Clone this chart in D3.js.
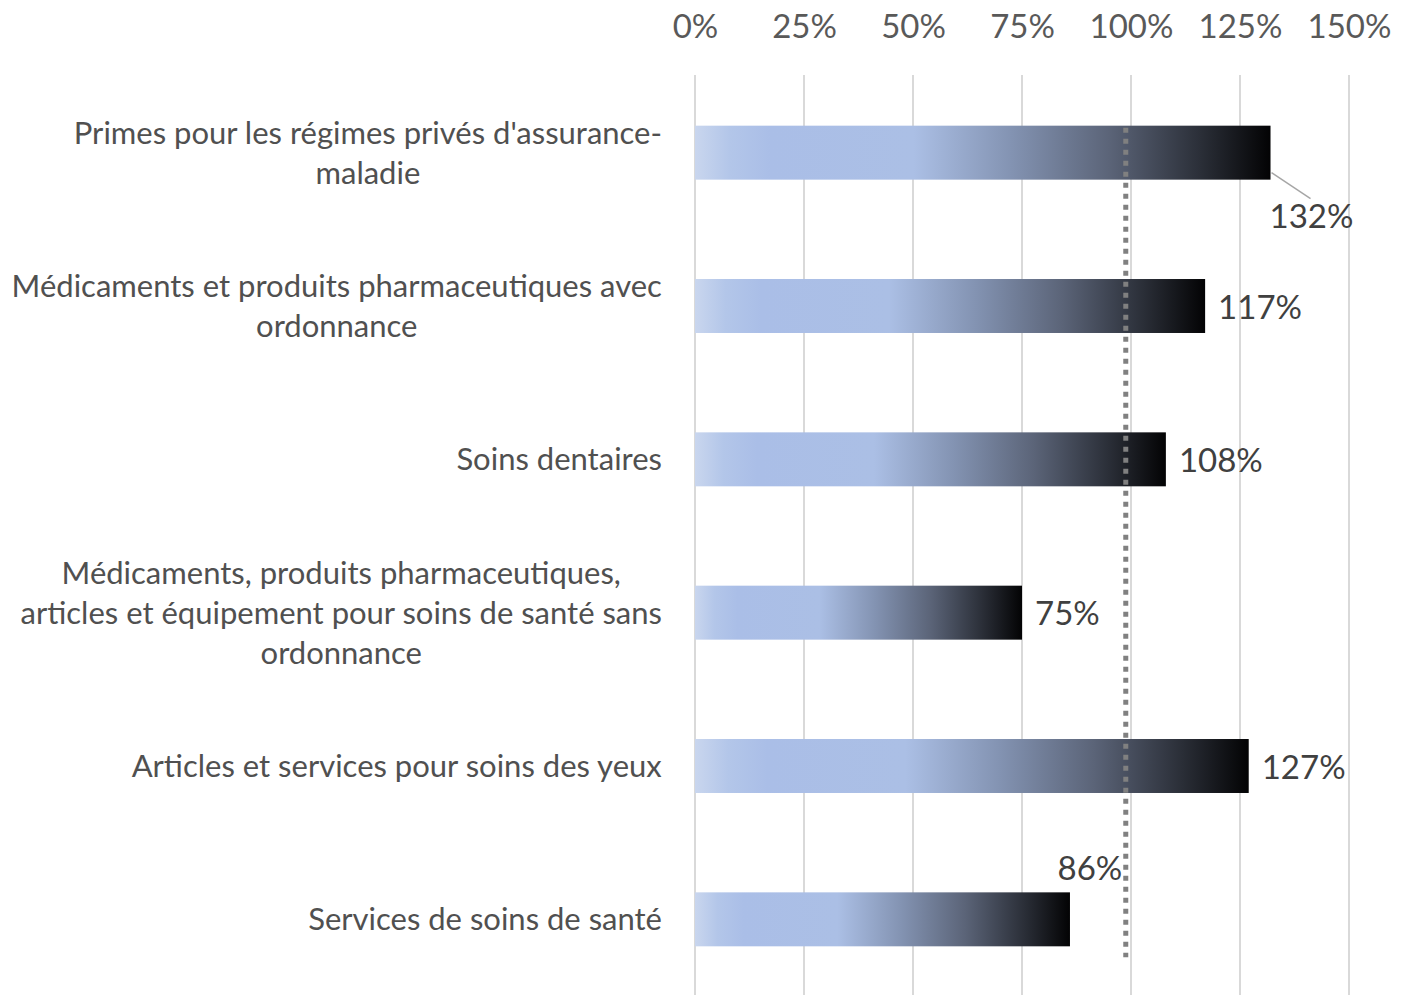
<!DOCTYPE html>
<html><head><meta charset="utf-8">
<script src="https://cdn.jsdelivr.net/npm/d3@7"></script>
<style>
html,body{margin:0;padding:0;background:#fff;}
svg{display:block;}
text{font-family:Lato,"Open Sans",sans-serif;}
</style></head>
<body><svg id="chart" width="1406" height="995"></svg>
<script>
const categories = [
  ["Primes pour les régimes privés d'assurance-", "maladie"],
  ["Médicaments et produits pharmaceutiques avec", "ordonnance"],
  ["Soins dentaires"],
  ["Médicaments, produits pharmaceutiques,", "articles et équipement pour soins de santé sans", "ordonnance"],
  ["Articles et services pour soins des yeux"],
  ["Services de soins de santé"]
];
const values = [132, 117, 108, 75, 127, 86];
const valueLabels = ["132%", "117%", "108%", "75%", "127%", "86%"];
const tickValues = [0, 25, 50, 75, 100, 125, 150];
const tickLabels = ["0%", "25%", "50%", "75%", "100%", "125%", "150%"];
const referenceValue = 98.8;

const svg = d3.select("#chart");
const W = 1406, H = 995;
const x = d3.scaleLinear().domain([0, 150]).range([695, 1349]);
const y = d3.scaleBand().domain(d3.range(values.length)).range([76, 996])
  .paddingInner(0.648).paddingOuter(0.324);

// gradient
const defs = svg.append("defs");
const grad = defs.append("linearGradient").attr("id", "barGrad")
  .attr("x1", "0%").attr("x2", "100%").attr("y1", "0%").attr("y2", "0%");
[[0, "#c9d6ee"], [0.06, "#b3c6e9"], [0.13, "#aabee7"], [0.38, "#abbfe5"],
 [0.55, "#8393b2"], [0.72, "#5b6478"], [0.88, "#2a2e37"], [1, "#030304"]]
  .forEach(([o, c]) => grad.append("stop").attr("offset", o).attr("stop-color", c));

// gridlines
svg.append("g").selectAll("line").data(tickValues).join("line")
  .attr("x1", d => x(d)).attr("x2", d => x(d))
  .attr("y1", 75).attr("y2", H)
  .attr("stroke", "#d9d9d9").attr("stroke-width", 2);

// top axis labels
const axis = d3.axisTop(x).tickValues(tickValues)
  .tickFormat((d, i) => tickLabels[i]).tickSize(0).tickPadding(0);
const ag = svg.append("g").attr("transform", "translate(0,38)").call(axis);
ag.select(".domain").remove();
ag.selectAll("text").attr("font-size", 33).attr("fill", "#595959")
  .attr("font-family", "Lato, 'Open Sans', sans-serif");

// bars
svg.append("g").selectAll("rect").data(values).join("rect")
  .attr("x", x(0)).attr("y", (d, i) => y(i))
  .attr("width", d => x(d) - x(0)).attr("height", y.bandwidth())
  .attr("fill", "url(#barGrad)");

// reference dotted line
svg.append("line")
  .attr("x1", x(referenceValue)).attr("x2", x(referenceValue))
  .attr("y1", y(0) + 2).attr("y2", y(values.length - 1) + y.bandwidth() + 11)
  .attr("stroke", "#808080").attr("stroke-width", 5)
  .attr("stroke-dasharray", "5,6");

// category labels
const lineH = 40;
const cg = svg.append("g");
categories.forEach((lines, i) => {
  const cy = y(i) + y.bandwidth() / 2;
  const t = cg.append("text").attr("font-size", 31).attr("fill", "#505050")
    .attr("text-anchor", "middle");
  lines.forEach((ln, j) => {
    t.append("tspan").attr("x", 0)
      .attr("y", cy + (j - (lines.length - 1) / 2) * lineH)
      .attr("dy", "0.35em").text(ln);
  });
  const bb = t.node().getBBox();
  t.attr("transform", `translate(${662 - bb.width / 2},0)`);
});

// value labels
const vg = svg.append("g");
values.forEach((v, i) => {
  const cy = y(i) + y.bandwidth() / 2;
  const t = vg.append("text").attr("font-size", 33).attr("fill", "#404040")
    .attr("dy", "0.35em").text(valueLabels[i]);
  if (i === 0) {
    t.attr("x", x(v) - 1).attr("y", cy + 64);
    vg.append("line").attr("x1", x(v) + 1).attr("y1", cy + 20)
      .attr("x2", x(v) + 40).attr("y2", cy + 46)
      .attr("stroke", "#a6a6a6").attr("stroke-width", 1.5);
  } else if (i === values.length - 1) {
    t.attr("x", x(v) + 20).attr("y", y(i) - 24).attr("text-anchor", "middle");
  } else {
    t.attr("x", x(v) + 13).attr("y", cy + 1);
  }
});
</script></body></html>
